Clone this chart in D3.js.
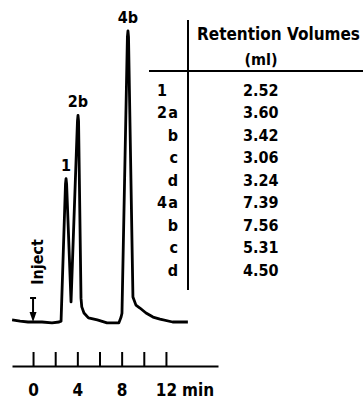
<!DOCTYPE html>
<html>
<head>
<meta charset="utf-8">
<script src="https://cdn.jsdelivr.net/npm/d3@7"></script>
<style>
  body { margin: 0; background: #fff; }
  text { font-family: "DejaVu Sans Condensed", "DejaVu Sans", sans-serif; font-weight: bold; fill: #000; }
</style>
</head>
<body>
<svg width="363" height="399"></svg>
<script>
// chromatogram trace: time (min) and detector signal (% of highest peak)
const traceTime = [-1.89, -1.17, -0.45, 0, 0.81, 1.71, 2.35, 2.53, 2.93, 2.98, 3.03, 3.43,
  4.01, 4.06, 4.11, 4.33, 4.4, 4.6, 5.0, 5.8, 6.68, 7.31, 7.75, 7.95, 8.03,
  8.52, 8.57, 8.62, 9.02, 9.29, 9.65, 10.2, 10.83, 11.46, 12.6, 13.98];
const traceSignal = [0.7, 0.3, 0, 0, 0, -0.3, 0, 0.3, 47.5, 49.3, 47.5, 6.9,
  69, 71, 69, 8.2, 5.2, 3.1, 1.4, 0.7, -0.3, -0.3, -0.3, 1.7, 3,
  98, 100, 98, 8.6, 5.8, 4.8, 3.1, 1.7, 1.0, 0, 0];

// peak labels
const peakNames = ["1", "2b", "4b"];
const peakTime = [2.98, 4.06, 8.57];
const peakSignal = [49.3, 71, 100];

// axis
const axisTicks = [0, 2, 4, 6, 8, 10, 12];
const axisLabels = [0, 4, 8, 12];

// retention table
const rowNumber = ["1", "2", "", "", "", "4", "", "", ""];
const rowLetter = ["", "a", "b", "c", "d", "a", "b", "c", "d"];
const retention = [2.52, 3.60, 3.42, 3.06, 3.24, 7.39, 7.56, 5.31, 4.50];

const svg = d3.select("svg");

const x = d3.scaleLinear().domain([-1.9, 16.7]).range([12, 218]);
const y = d3.scaleLinear().domain([0, 100]).range([322, 31]);

// trace
const line = d3.line()
  .x((d, i) => x(traceTime[i]))
  .y((d, i) => y(traceSignal[i]));

svg.append("path")
  .datum(traceTime)
  .attr("d", line)
  .attr("fill", "none")
  .attr("stroke", "#000")
  .attr("stroke-width", 2.8)
  .attr("stroke-linejoin", "round");

svg.selectAll(".peak")
  .data(peakNames)
  .enter().append("text")
  .attr("class", "peak")
  .attr("x", (d, i) => x(peakTime[i]))
  .attr("y", (d, i) => y(peakSignal[i]) - 8)
  .attr("text-anchor", "middle")
  .style("font-size", "16px")
  .text(d => d);

// inject marker
const ix = x(0);
svg.append("line")
  .attr("x1", ix).attr("x2", ix)
  .attr("y1", 298).attr("y2", 314)
  .attr("stroke", "#000").attr("stroke-width", 2);
svg.append("line")
  .attr("x1", ix - 3).attr("x2", ix + 3)
  .attr("y1", 298).attr("y2", 298)
  .attr("stroke", "#000").attr("stroke-width", 2);
svg.append("path")
  .attr("d", `M${ix - 3.5},312 L${ix + 3.5},312 L${ix},322 Z`)
  .attr("fill", "#000");
svg.append("text")
  .attr("transform", `translate(${ix + 4},262) rotate(-90)`)
  .attr("text-anchor", "middle")
  .attr("dy", "0.35em")
  .style("font-size", "16px")
  .text("Inject");

// time axis, ticks pointing up
const axis = svg.append("g")
  .attr("transform", "translate(0,366)")
  .call(d3.axisBottom(x)
    .tickValues(axisTicks)
    .tickSizeInner(-14)
    .tickSizeOuter(0)
    .tickPadding(18)
    .tickFormat(d => axisLabels.includes(d) ? d : ""));

axis.attr("font-family", null).attr("font-size", null);
axis.select(".domain").attr("stroke-width", 2);
axis.selectAll(".tick line").attr("stroke-width", 2);
axis.selectAll("text").style("font-size", "17px");

svg.append("text")
  .attr("x", 182)
  .attr("y", 396)
  .style("font-size", "17px")
  .text("min");

// table
svg.append("line")
  .attr("x1", 188).attr("x2", 188)
  .attr("y1", 20).attr("y2", 290)
  .attr("stroke", "#000").attr("stroke-width", 2);
svg.append("line")
  .attr("x1", 149).attr("x2", 363)
  .attr("y1", 71).attr("y2", 71)
  .attr("stroke", "#000").attr("stroke-width", 2);

svg.append("text")
  .attr("x", 197).attr("y", 40)
  .style("font-size", "17px")
  .text("Retention Volumes");
svg.append("text")
  .attr("x", 261).attr("y", 65)
  .attr("text-anchor", "middle")
  .style("font-size", "16px")
  .text("(ml)");

const row = d3.scalePoint().domain(d3.range(retention.length)).range([90, 270]);

const rows = svg.selectAll(".row")
  .data(retention)
  .enter().append("g")
  .attr("class", "row")
  .attr("transform", (d, i) => `translate(0,${row(i)})`);

rows.append("text")
  .attr("x", 157)
  .attr("dy", "0.36em")
  .style("font-size", "16px")
  .text((d, i) => rowNumber[i]);
rows.append("text")
  .attr("x", 178)
  .attr("dy", "0.36em")
  .attr("text-anchor", "end")
  .style("font-size", "16px")
  .text((d, i) => rowLetter[i]);
rows.append("text")
  .attr("x", 243)
  .attr("dy", "0.36em")
  .style("font-size", "16px")
  .text(d => d.toFixed(2));
</script>
</body>
</html>
